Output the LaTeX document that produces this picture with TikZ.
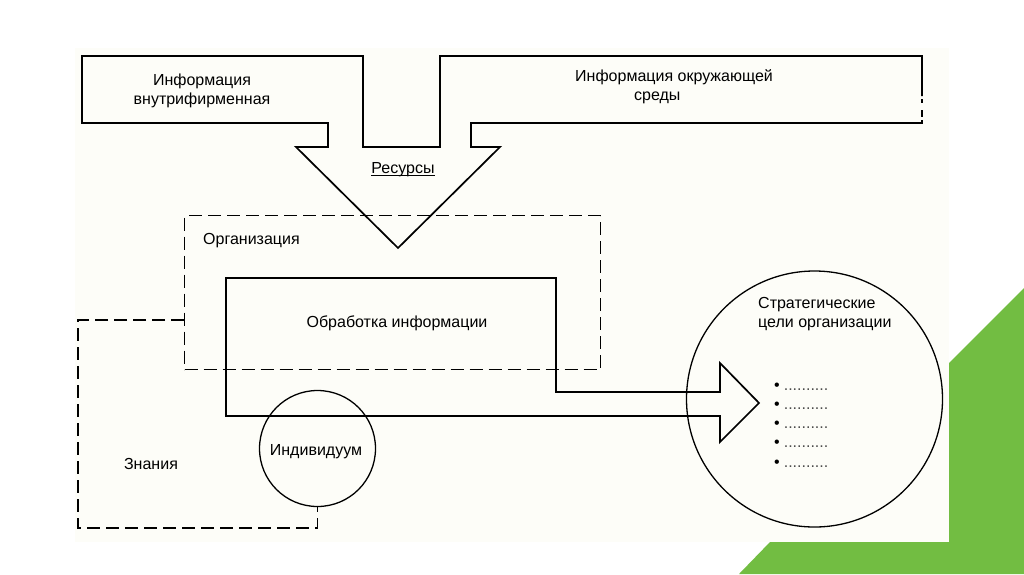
\documentclass[tikz,border=0pt]{standalone}
\usepackage{fontspec}
\setmainfont{Liberation Sans}
\definecolor{cream}{RGB}{253,253,248}
\definecolor{leaf}{RGB}{114,189,66}
\begin{document}
\begin{tikzpicture}[x=1pt,y=-1pt,
  outl/.style={line width=1.7pt, line join=miter},
  ring/.style={draw, circle, line width=1.3pt, inner sep=0pt},
  dline/.style={line width=1.4pt, dash pattern=on 13pt off 6pt},
  lbl/.style={font=\fontsize{16}{19}\selectfont, inner sep=0pt},
]
\useasboundingbox (0,0) rectangle (1024,574);
\fill[white] (0,0) rectangle (1024,574);
\fill[leaf] (1024,288) -- (949,363) -- (949,542) -- (770,542) -- (739,574) -- (1024,574) -- cycle;
\fill[cream] (75,48) rectangle (949,542);

% top shape: two information bands merging into the resources arrow
\draw[outl] (922,96) -- (922,56) -- (440,56) -- (440,147) -- (363,147) -- (363,56)
  -- (82,56) -- (82,123) -- (328,123) -- (328,147) -- (296,147) -- (398,248)
  -- (500,147) -- (471,147) -- (471,123) -- (922,123) -- (922,120);
\draw[line width=1.2pt] (922,99) -- (922,103) (922,110) -- (922,117);

% organisation (dashed)
\node[draw, line width=1.2pt, dash pattern=on 13pt off 6pt, minimum width=416pt, minimum height=154pt, inner sep=0pt, anchor=north west] (org) at (184,215) {};

% information processing box with arrow
\draw[outl] (226,278) -- (556,278) -- (556,392) -- (720,392) -- (720,363) -- (759,403)
  -- (720,442) -- (720,416) -- (226,416) -- cycle;

% circles
\node[ring, minimum size=116pt] (indiv) at (317.5,448.5) {};
\node[ring, minimum size=256pt] (goals) at (814.5,399) {};

% knowledge loop
\coordinate (kn1) at (184,320);
\coordinate (kn2) at (78,528);
\draw[dline] (kn1) -- (78,320) -- (kn2) -- (kn2 -| indiv.south) -- (indiv.south);

% texts
\node[lbl, anchor=base] (t1a) at (202,85) {Информация};
\node[lbl, anchor=base] (t1b) at (202,104) {внутрифирменная};
\node[lbl, anchor=base west] (t2a) at (575,81) {Информация окружающей};
\node[lbl, anchor=base west] (t2b) at (634,100) {среды};
\node[lbl, anchor=base] (res) at (403,173) {Ресурсы};
\draw[line width=0.9pt] ([yshift=-2pt]res.base west) -- ([yshift=-2pt]res.base east);
\node[lbl, anchor=base west] (orgt) at (203,244) {Организация};
\node[lbl, anchor=base] (proc) at (397,327) {Обработка информации};
\node[lbl, anchor=base] (indt) at (316,455) {Индивидуум};
\node[lbl, anchor=base] (know) at (151,469) {Знания};
\node[lbl, anchor=base west] (g1) at (758,308) {Стратегические};
\node[lbl, anchor=base west] (g2) at (758,327) {цели организации};
\foreach \i/\y in {1/390.5, 2/409.8, 3/428.8, 4/447.8, 5/467.2}
  \node[lbl, anchor=base west] (b\i) at (774,\y) {•\hspace{4pt}{\color{black!70}..........}};
\end{tikzpicture}
\end{document}
